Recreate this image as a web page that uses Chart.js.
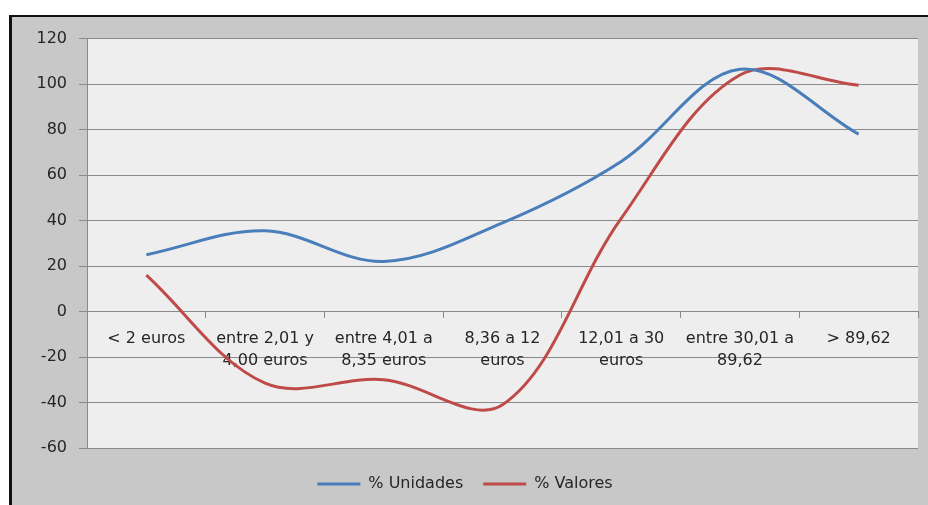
<!DOCTYPE html>
<html>
<head>
<meta charset="utf-8">
<script src="https://cdn.jsdelivr.net/npm/chart.js@4/dist/chart.umd.min.js"></script>
<style>
  html, body { margin: 0; padding: 0; background: #fff; }
  #frame {
    position: absolute; left: 9px; top: 15px;
    width: 919px; height: 490px;
    border-left: 3px solid #111; border-top: 2px solid #111;
    background: #c8c8c8; box-sizing: border-box;
  }
  #wrap { position: absolute; left: 0; top: 0; width: 916px; height: 488px; }
</style>
</head>
<body>
<div id="frame"><div id="wrap"><canvas id="chart"></canvas></div></div>
<script>
// categories and values
const categories = [
  "< 2 euros",
  ["entre 2,01 y", "4,00 euros"],
  ["entre 4,01 a", "8,35 euros"],
  ["8,36 a 12", "euros"],
  ["12,01 a 30", "euros"],
  ["entre 30,01 a", "89,62"],
  "> 89,62"
];
const unidades = [25, 35.5, 22, 39, 66, 106.5, 78];
const valores = [16, -31.5, -30, -41, 41, 104, 99.5];
const yTicks = { min: -60, max: 120, step: 20 };

const font = { family: "'DejaVu Sans', sans-serif", size: 16 };
const gridGray = "#8a8a8a";
const textColor = "#262626";

// light plot area background
const plotBg = {
  id: "plotBg",
  beforeDraw(chart) {
    const { ctx, chartArea: a } = chart;
    ctx.save();
    ctx.fillStyle = "#eeeeee";
    ctx.fillRect(a.left, a.top, a.right - a.left, a.bottom - a.top);
    ctx.restore();
  }
};

new Chart(document.getElementById("chart"), {
  type: "line",
  data: {
    labels: categories,
    datasets: [
      { label: "% Unidades", data: unidades, borderColor: "#4a7ebb", backgroundColor: "#4a7ebb",
        borderWidth: 3, pointRadius: 0, tension: 0.35, fill: false },
      { label: "% Valores", data: valores, borderColor: "#be4b48", backgroundColor: "#be4b48",
        borderWidth: 3, pointRadius: 0, tension: 0.35, fill: false }
    ]
  },
  options: {
    responsive: true,
    maintainAspectRatio: false,
    animation: false,
    layout: { padding: { left: 0, right: 10, top: 19, bottom: 3 } },
    plugins: {
      tooltip: { enabled: false },
      legend: {
        position: "bottom",
        title: { display: true, text: "", font: { size: 5 }, padding: { top: 1, bottom: 1 } },
        labels: {
          font: font, color: textColor, boxWidth: 43, boxHeight: 0, padding: 20,
          generateLabels(chart) {
            return chart.data.datasets.map((d, i) => ({
              text: d.label, strokeStyle: d.borderColor, fillStyle: d.borderColor,
              lineWidth: 3, hidden: false, datasetIndex: i, fontColor: textColor
            }));
          }
        }
      }
    },
    scales: {
      x: {
        position: { y: 0 },
        offset: true,
        grid: { display: true, drawOnChartArea: false, drawTicks: true, tickLength: 6, offset: true, color: gridGray },
        border: { color: gridGray },
        ticks: { font: { ...font, lineHeight: 1.35 }, color: textColor, padding: 11, maxRotation: 0, autoSkip: false }
      },
      y: {
        min: yTicks.min, max: yTicks.max,
        afterFit(scale) { scale.width = 75; },
        grid: { color: gridGray, tickLength: 8 },
        border: { color: gridGray },
        ticks: { stepSize: yTicks.step, font: font, color: textColor, padding: 12 }
      }
    }
  },
  plugins: [plotBg]
});
</script>
</body>
</html>
